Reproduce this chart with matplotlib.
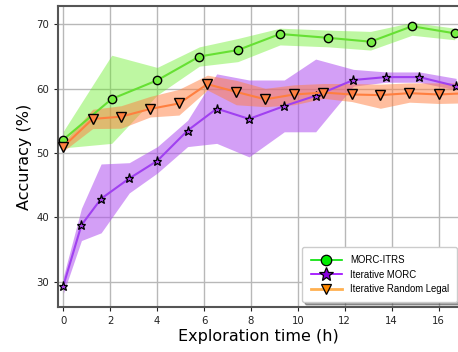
import matplotlib
matplotlib.use('Agg')
import matplotlib.pyplot as plt
from matplotlib.lines import Line2D


# MORC-ITRS
itrs_time = [0.0, 2.06, 4.0, 5.8, 7.44, 9.24, 11.3, 13.1, 14.87, 16.69]
itrs_mean = [52.1, 58.4, 61.3, 65.0, 66.0, 68.5, 67.9, 67.3, 69.7, 68.6]
itrs_upper = [53.4, 65.2, 63.3, 66.5, 67.8, 69.4, 69.1, 68.9, 70.3, 69.4]
itrs_lower = [50.8, 51.5, 59.0, 63.5, 64.2, 66.8, 66.5, 66.0, 68.3, 67.6]

# Iterative MORC
iter_time = [0.0, 0.77, 1.61, 2.81, 4.01, 5.3, 6.54, 7.92, 9.42, 10.76, 12.37, 13.76, 15.18, 16.75]
iter_mean = [29.4, 38.8, 42.9, 46.05, 48.8, 53.5, 56.9, 55.3, 57.3, 58.9, 61.35, 61.8, 61.8, 60.4]
iter_upper = [30.8, 41.4, 48.3, 48.5, 51.0, 55.1, 62.3, 61.35, 61.35, 64.6, 63.0, 62.6, 62.6, 61.6]
iter_lower = [28.2, 36.4, 37.6, 43.8, 46.9, 51.0, 51.5, 49.4, 53.3, 53.3, 60.4, 61.0, 61.0, 59.8]

# Iterative Random Legal
rand_time = [0.0, 1.25, 2.46, 3.7, 4.93, 6.14, 7.37, 8.61, 9.84, 11.09, 12.3, 13.52, 14.76, 16.0, 17.2]
rand_mean = [51.0, 55.3, 55.65, 56.85, 57.7, 60.7, 59.5, 58.35, 59.1, 59.4, 59.1, 59.0, 59.3, 59.1, 59.3]
rand_upper = [51.6, 56.8, 57.35, 58.8, 59.9, 62.1, 61.3, 60.05, 60.6, 60.8, 60.8, 60.7, 60.9, 60.9, 60.9]
rand_lower = [50.3, 53.8, 53.85, 55.6, 55.9, 59.8, 57.5, 57.2, 57.5, 58.5, 58.0, 56.95, 57.9, 57.7, 57.8]

x_ticks = [0, 2, 4, 6, 8, 10, 12, 14, 16]
y_ticks = [30, 40, 50, 60, 70]


fig = plt.figure(figsize=(4.58, 3.52), dpi=100)
ax = fig.add_axes([0.1266, 0.1278, 0.8734, 0.855])

# shaded spread, then mean lines on top
ax.fill_between(itrs_time, itrs_lower, itrs_upper, color='#66ee22', alpha=0.42, linewidth=0)
ax.fill_between(iter_time, iter_lower, iter_upper, color='#b050f0', alpha=0.55, linewidth=0)
ax.fill_between(rand_time, rand_lower, rand_upper, color='#ff7f40', alpha=0.5, linewidth=0)

ax.plot(itrs_time, itrs_mean, color='#66e033', lw=1.5, marker='o', ms=6,
        mfc='#77ee44', mec='black', mew=1.0, zorder=3)
ax.plot(iter_time, iter_mean, color='#a040f0', lw=1.5, marker='*', ms=6.5,
        mfc='#aa44ee', mec='black', mew=0.9, zorder=3)
ax.plot(rand_time, rand_mean, color='#ff7f3f', lw=1.5, marker='v', ms=6.5,
        mfc='#ff8040', mec='black', mew=1.0, zorder=4)

ax.set_xlim(-0.23, 16.83)
ax.set_ylim(26.07, 72.84)
ax.set_xticks(x_ticks)
ax.set_yticks(y_ticks)
ax.tick_params(labelsize=7.3, colors='#222222', length=3)
ax.grid(True, color='#b8b8b8', linewidth=1.0)
ax.set_axisbelow(True)

for side in ['left', 'bottom', 'top']:
    ax.spines[side].set_color('#555555')
    ax.spines[side].set_linewidth(1.5)
ax.spines['right'].set_visible(False)

ax.set_xlabel('Exploration time (h)', fontsize=11.5, labelpad=2)
ax.set_ylabel('Accuracy (%)', fontsize=11.5, labelpad=3)

handles = [
    Line2D([], [], color='#00e000', lw=1.2, marker='o', ms=7.5, mfc='#00ee00', mec='black', mew=0.9),
    Line2D([], [], color='#9900ff', lw=1.2, marker='*', ms=10, mfc='#8800dd', mec='black', mew=0.9),
    Line2D([], [], color='#ffb050', lw=2.0, marker='v', ms=7.5, mfc='#ff8800', mec='black', mew=0.9),
]
labels = ['MORC-ITRS', 'Iterative MORC', 'Iterative Random Legal']
leg = ax.legend(handles, labels, loc='lower right', bbox_to_anchor=(0.998, 0.142),
                bbox_transform=fig.transFigure, borderaxespad=0, shadow=True,
                framealpha=1, handlelength=3.3, handletextpad=0.8,
                prop={'family': 'Liberation Sans', 'size': 6.9},
                borderpad=0.85, labelspacing=0.45)
leg.get_frame().set_edgecolor('#cccccc')

fig.savefig('out.png', dpi=100)
